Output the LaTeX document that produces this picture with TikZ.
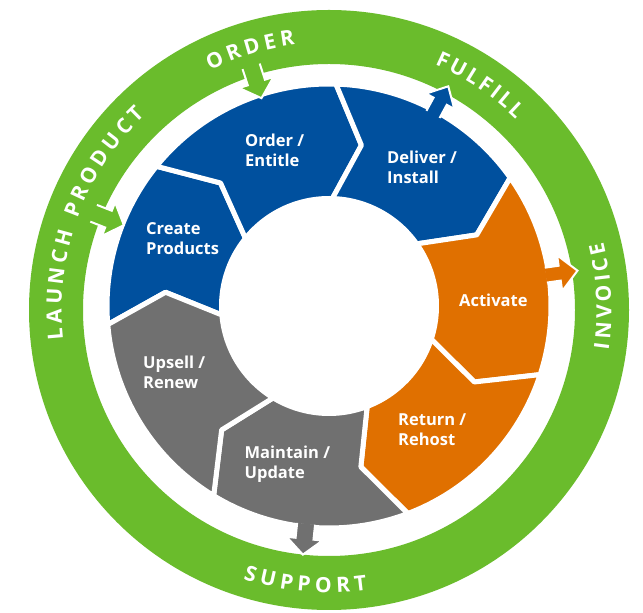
\documentclass[tikz,border=0pt]{standalone}
\usepackage{fontspec}
\setmainfont{Open Sans}
\usetikzlibrary{decorations.text}
\definecolor{segblue}{RGB}{0,80,158}
\definecolor{segorange}{RGB}{224,112,0}
\definecolor{seggrey}{RGB}{112,112,112}
\definecolor{ringgreen}{RGB}{106,188,44}
\newcommand{\ringfont}{\fontsize{21}{21}\selectfont\bfseries}
\newcommand{\wheelseg}[3]{%
  \filldraw[fill=#1, draw=white, line width=5, line join=round]
    ([shift={(#2:222)}]C) arc[start angle=#2, end angle=#3, radius=222]
    -- ([shift={(#3-9.6:164)}]C) -- ([shift={(#3:107.5)}]C)
    arc[start angle=#3, end angle=#2, radius=107.5]
    -- ([shift={(#2-9.6:164)}]C) -- cycle;}
\newcommand{\wheelarrow}[7]{%
  \begin{scope}[shift={(C)}, rotate=#2]
    \fill[#1]
      (#3,-#6/2) -- (#4,-#6/2) -- (#4,-#7/2) -- (#5,0) -- (#4,#7/2)
      -- (#4,#6/2) -- (#3,#6/2) -- cycle;
    \draw[white, line width=2, line join=miter]
      (#3,-#6/2) -- (#4,-#6/2) -- (#4,-#7/2) -- (#5,0) -- (#4,#7/2)
      -- (#4,#6/2) -- (#3,#6/2);
  \end{scope}}
\tikzset{
  lbl/.style={text=white, font=\fontsize{16.5}{20}\selectfont\bfseries,
    align=left, anchor=base west, inner sep=0pt},
  ringtext/.style={decorate, decoration={text along path, text color=white,
    text align={fit to path}, text={|\ringfont|#1}}}
}
\begin{document}
\begin{tikzpicture}[x=1pt,y=1pt]
\useasboundingbox (0,0) rectangle (643,613);
\fill[white] (0,0) rectangle (643,613);
\coordinate (C) at (329,307);
\coordinate (G) at (329,303);
% outer green ring
\fill[ringgreen, even odd rule] (G) circle[radius=300] (G) circle[radius=246];
% segments
\wheelseg{segblue}{184.8}{141}
\wheelseg{segblue}{141}{88.2}
\wheelseg{segblue}{88.2}{35.3}
\wheelseg{segorange}{35.3}{-18}
\wheelseg{segorange}{-18}{-69.2}
\wheelseg{seggrey}{-69.2}{-121.3}
\wheelseg{seggrey}{238.7}{184.8}
% arrows
\wheelarrow{ringgreen}{108}{252}{235}{218.5}{18}{36}
\wheelarrow{ringgreen}{158.5}{253}{237}{220.5}{18}{36}
\wheelarrow{segblue}{61.5}{218}{233}{250}{15}{32}
\wheelarrow{segorange}{8.1}{219}{233}{251}{15}{36}
\wheelarrow{seggrey}{-96}{219}{234}{250}{18}{36}
% ring texts
\path[shift={(G)}, ringtext={ORDER}] (116.4:267.5) arc[start angle=116.4, end angle=97.3, radius=267.5];
\path[shift={(G)}, ringtext={FULFILL}] (66.7:267.5) arc[start angle=66.7, end angle=45.5, radius=267.5];
\path[shift={(G)}, ringtext={LAUNCH PRODUCT}] (186.3:267.5) arc[start angle=186.3, end angle=133.3, radius=267.5];
\path[shift={(G)}, ringtext={INVOICE}] (-8.2:282.5) arc[start angle=-8.2, end angle=14, radius=282.5];
\path[shift={(G)}, ringtext={SUPPORT}] (-107.7:282.5) arc[start angle=-107.7, end angle=-82.2, radius=282.5];
% labels
\node[lbl] (create) at (146,358) {Create\\Products};
\node[lbl] (order) at (245,446) {Order /\\Entitle};
\node[lbl] (deliver) at (387,429) {Deliver /\\Install};
\node[lbl] (activate) at (459,306.5) {Activate};
\node[lbl] (return) at (398,167) {Return /\\Rehost};
\node[lbl] (maintain) at (244.4,134.5) {Maintain /\\Update};
\node[lbl] (upsell) at (143,224) {Upsell /\\Renew};
\end{tikzpicture}
\end{document}
